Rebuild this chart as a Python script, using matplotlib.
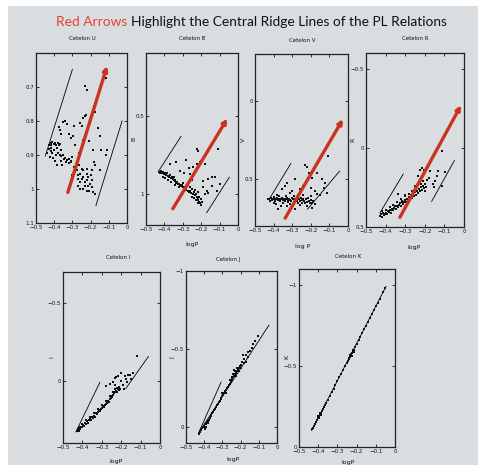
import matplotlib
matplotlib.use('Agg')
import matplotlib.pyplot as plt
from matplotlib.patches import Rectangle
from matplotlib.ticker import FuncFormatter, FixedLocator

# ---------------- data ----------------
U_pts = [(-0.43,0.87),(-0.42,0.865),(-0.415,0.872),(-0.41,0.862),(-0.40,0.868),(-0.395,0.864),(-0.39,0.870),(-0.38,0.866),
         (-0.375,0.872),(-0.37,0.868),(-0.428,0.882),(-0.42,0.889),(-0.41,0.894),(-0.40,0.885),(-0.39,0.899),(-0.38,0.895),
         (-0.37,0.899),(-0.36,0.903),(-0.35,0.899),(-0.34,0.908),(-0.33,0.915),(-0.32,0.912),(-0.31,0.918),(-0.32,0.925),
         (-0.335,0.921),(-0.305,0.922),(-0.395,0.918),(-0.385,0.928),(-0.365,0.918),(-0.345,0.913),(-0.44,0.895),(-0.425,0.905),
         (-0.415,0.878),(-0.405,0.91),(-0.385,0.88),(-0.36,0.885),(-0.355,0.93),(-0.3,0.905),
         (-0.373,0.818),(-0.363,0.838),(-0.35,0.804),(-0.34,0.80),(-0.32,0.838),(-0.295,0.843),(-0.29,0.816),(-0.26,0.806),
         (-0.25,0.816),(-0.24,0.792),(-0.225,0.782),(-0.207,0.86),(-0.175,0.775),(-0.151,0.843),(-0.16,0.82),(-0.142,0.885),
         (-0.115,0.9),(-0.11,0.885),(-0.185,0.885),(-0.24,0.855),(-0.265,0.895),(-0.285,0.87),(-0.31,0.85),(-0.33,0.81),
         (-0.37,0.826),(-0.231,0.696),(-0.222,0.708),(-0.115,0.673),(-0.233,0.786),
         (-0.285,0.95),(-0.276,0.945),(-0.267,0.96),(-0.258,0.955),(-0.25,0.97),(-0.24,0.965),(-0.231,0.98),(-0.222,0.975),
         (-0.213,0.99),(-0.204,0.985),(-0.195,0.995),(-0.24,1.0),(-0.222,1.005),(-0.207,1.005),(-0.185,1.01),(-0.176,1.015),
         (-0.258,0.98),(-0.27,0.97),(-0.24,0.945),(-0.222,0.94),(-0.195,0.945),(-0.176,0.93),(-0.18,0.92),(-0.149,0.945),
         (-0.262,0.93),(-0.222,0.955),(-0.25,0.94),(-0.213,0.965),(-0.29,0.935),(-0.2,0.96),(-0.19,0.975),(-0.23,0.99),
         (-0.27,0.99),(-0.3,0.96),(-0.26,1.0)]
B_pts = [(-0.43,0.86),(-0.425,0.87),(-0.42,0.855),(-0.415,0.865),(-0.41,0.87),(-0.405,0.86),(-0.40,0.875),(-0.395,0.865),
         (-0.39,0.88),(-0.385,0.87),(-0.38,0.885),(-0.375,0.89),(-0.37,0.88),(-0.365,0.90),(-0.36,0.895),(-0.355,0.905),
         (-0.35,0.91),(-0.345,0.915),(-0.34,0.92),(-0.335,0.93),(-0.33,0.925),(-0.325,0.935),(-0.32,0.94),(-0.315,0.945),
         (-0.31,0.95),(-0.305,0.945),(-0.30,0.955),(-0.295,0.96),(-0.29,0.97),(-0.285,0.965),(-0.28,0.975),(-0.27,0.98),
         (-0.265,0.99),(-0.26,0.985),(-0.255,0.995),(-0.25,0.97),(-0.245,1.0),(-0.24,0.99),(-0.235,1.01),(-0.23,1.0),
         (-0.225,1.02),(-0.22,1.03),(-0.215,1.04),(-0.21,1.05),(-0.205,1.06),(-0.2,1.07),(-0.22,1.06),(-0.23,1.04),
         (-0.21,1.02),(-0.2,1.035),(-0.195,1.05),(-0.24,1.03),(-0.41,0.89),(-0.395,0.9),(-0.38,0.91),(-0.365,0.925),
         (-0.35,0.89),(-0.34,0.945),(-0.32,0.96),(-0.3,0.93),(-0.28,0.95),(-0.26,0.96),(-0.25,1.02),(-0.235,0.975),
         (-0.22,0.99),(-0.368,0.81),(-0.336,0.796),(-0.282,0.787),(-0.314,0.855),(-0.296,0.865),(-0.242,0.83),
         (-0.224,0.813),(-0.206,0.80),(-0.179,0.813),(-0.224,0.713),(-0.215,0.728),(-0.107,0.717),(-0.143,0.894),
         (-0.125,0.894),(-0.161,0.909),(-0.143,0.951),(-0.098,0.94),(-0.116,0.983),(-0.17,0.983),(-0.188,0.92),
         (-0.26,0.877),(-0.269,0.834),(-0.25,0.91),(-0.161,0.994),(-0.19,0.96),(-0.18,1.0)]
V_pts = [(-0.43,0.63),(-0.425,0.625),(-0.42,0.64),(-0.415,0.62),(-0.41,0.635),(-0.405,0.63),(-0.40,0.615),(-0.395,0.625),
         (-0.39,0.64),(-0.385,0.63),(-0.38,0.62),(-0.375,0.635),(-0.37,0.625),(-0.365,0.64),(-0.36,0.63),(-0.355,0.62),
         (-0.35,0.635),(-0.345,0.625),(-0.34,0.64),(-0.335,0.63),(-0.33,0.62),(-0.325,0.635),(-0.32,0.645),(-0.315,0.625),
         (-0.31,0.635),(-0.305,0.64),(-0.30,0.62),(-0.295,0.63),(-0.29,0.645),(-0.285,0.625),(-0.28,0.635),(-0.275,0.64),
         (-0.27,0.65),(-0.265,0.63),(-0.26,0.64),(-0.255,0.62),(-0.25,0.635),(-0.245,0.65),(-0.24,0.625),(-0.235,0.64),
         (-0.23,0.655),(-0.225,0.63),(-0.22,0.645),(-0.215,0.62),(-0.21,0.64),(-0.205,0.655),(-0.2,0.635),(-0.195,0.65),
         (-0.19,0.64),(-0.18,0.66),(-0.4,0.65),(-0.385,0.66),(-0.37,0.61),(-0.35,0.655),(-0.335,0.605),(-0.31,0.66),
         (-0.29,0.61),(-0.26,0.665),(-0.24,0.6),(-0.22,0.675),(-0.2,0.61),(-0.38,0.6),(-0.36,0.675),
         (-0.338,0.545),(-0.355,0.565),(-0.33,0.523),(-0.284,0.502),(-0.23,0.407),(-0.222,0.42),(-0.212,0.46),
         (-0.167,0.46),(-0.194,0.494),(-0.14,0.50),(-0.122,0.523),(-0.131,0.555),(-0.113,0.587),(-0.108,0.35),
         (-0.257,0.566),(-0.302,0.576),(-0.24,0.545),(-0.176,0.576),(-0.167,0.595),(-0.27,0.6),(-0.2,0.56),(-0.15,0.6),
         (-0.31,0.59),(-0.374,0.693),(-0.284,0.69),(-0.194,0.682),(-0.33,0.675)]
R_pts = [(-0.43,0.43),(-0.425,0.42),(-0.42,0.435),(-0.415,0.41),(-0.41,0.425),(-0.405,0.415),(-0.40,0.41),(-0.395,0.42),
         (-0.39,0.40),(-0.385,0.405),(-0.38,0.395),(-0.375,0.41),(-0.37,0.39),(-0.365,0.385),(-0.36,0.395),(-0.355,0.38),
         (-0.35,0.37),(-0.345,0.385),(-0.34,0.365),(-0.335,0.375),(-0.33,0.36),(-0.325,0.35),(-0.32,0.365),(-0.315,0.345),
         (-0.31,0.355),(-0.305,0.34),(-0.30,0.33),(-0.295,0.345),(-0.29,0.32),(-0.285,0.335),(-0.28,0.31),(-0.275,0.325),
         (-0.27,0.30),(-0.265,0.315),(-0.26,0.29),(-0.255,0.305),(-0.25,0.28),(-0.245,0.295),(-0.24,0.27),(-0.235,0.285),
         (-0.23,0.26),(-0.225,0.275),(-0.22,0.25),(-0.215,0.265),(-0.21,0.24),(-0.205,0.255),(-0.2,0.27),(-0.195,0.245),
         (-0.42,0.40),(-0.4,0.39),(-0.38,0.375),(-0.36,0.36),(-0.34,0.34),(-0.32,0.32),(-0.30,0.305),(-0.28,0.29),
         (-0.26,0.27),(-0.24,0.25),(-0.22,0.23),(-0.21,0.21),(-0.23,0.22),(-0.25,0.24),(-0.2,0.23),
         (-0.224,0.137),(-0.215,0.13),(-0.206,0.137),(-0.173,0.148),(-0.131,0.148),(-0.097,0.15),(-0.11,0.021),
         (-0.148,0.211),(-0.155,0.25),(-0.11,0.24),(-0.241,0.232),(-0.267,0.274),(-0.233,0.179),(-0.19,0.2),
         (-0.301,0.295),(-0.335,0.29),(-0.318,0.338),(-0.18,0.19),(-0.16,0.23),(-0.14,0.18)]
I_pts = [(-0.43,0.32),(-0.425,0.31),(-0.42,0.325),(-0.415,0.30),(-0.41,0.31),(-0.405,0.295),(-0.40,0.30),(-0.395,0.285),
         (-0.39,0.29),(-0.385,0.27),(-0.38,0.28),(-0.375,0.26),(-0.37,0.27),(-0.365,0.25),(-0.36,0.245),(-0.355,0.255),
         (-0.35,0.235),(-0.345,0.24),(-0.34,0.225),(-0.335,0.23),(-0.33,0.21),(-0.325,0.215),(-0.32,0.20),(-0.315,0.19),
         (-0.31,0.195),(-0.305,0.18),(-0.30,0.175),(-0.295,0.165),(-0.29,0.17),(-0.285,0.155),(-0.28,0.15),(-0.275,0.14),
         (-0.27,0.13),(-0.265,0.135),(-0.26,0.12),(-0.255,0.11),(-0.25,0.105),(-0.245,0.095),(-0.24,0.09),(-0.235,0.08),
         (-0.23,0.075),(-0.225,0.065),(-0.22,0.07),(-0.215,0.055),(-0.21,0.06),(-0.205,0.05),
         (-0.42,0.30),(-0.40,0.275),(-0.38,0.255),(-0.36,0.23),(-0.34,0.205),(-0.32,0.18),(-0.30,0.155),(-0.28,0.13),
         (-0.26,0.10),(-0.24,0.075),(-0.23,0.055),(-0.22,0.045),(-0.23,0.03),(-0.21,0.04),
         (-0.233,-0.021),(-0.225,-0.025),(-0.215,-0.03),(-0.181,-0.032),(-0.165,-0.035),(-0.155,-0.04),(-0.138,-0.053),
         (-0.121,-0.16),(-0.276,0.032),(-0.26,0.02),(-0.24,0.01),(-0.2,0.0),(-0.19,0.03),(-0.17,0.01),(-0.15,-0.01),
         (-0.2,-0.05),(-0.185,0.05),(-0.175,-0.01)]
J_pts = [(-0.43,0.04),(-0.425,0.03),(-0.42,0.02),(-0.415,0.015),(-0.41,0.005),(-0.405,0.0),(-0.40,-0.01),(-0.395,-0.02),
         (-0.39,-0.02),(-0.385,-0.035),(-0.38,-0.04),(-0.375,-0.05),(-0.37,-0.06),(-0.365,-0.07),(-0.36,-0.08),(-0.355,-0.09),
         (-0.35,-0.1),(-0.345,-0.11),(-0.34,-0.12),(-0.335,-0.13),(-0.33,-0.14),(-0.325,-0.15),(-0.32,-0.16),(-0.315,-0.17),
         (-0.31,-0.18),(-0.305,-0.185),(-0.30,-0.2),(-0.295,-0.21),(-0.29,-0.22),(-0.285,-0.23),(-0.28,-0.24),(-0.275,-0.25),
         (-0.27,-0.26),(-0.265,-0.27),(-0.26,-0.28),(-0.255,-0.29),(-0.25,-0.30),(-0.245,-0.31),(-0.24,-0.32),(-0.235,-0.33),
         (-0.23,-0.34),(-0.225,-0.35),(-0.22,-0.36),(-0.215,-0.37),(-0.21,-0.38),(-0.205,-0.39),(-0.20,-0.40),(-0.19,-0.42),
         (-0.18,-0.44),(-0.17,-0.46),(-0.16,-0.48),(-0.15,-0.49),(-0.14,-0.51),(-0.13,-0.53),(-0.12,-0.55),(-0.104,-0.586),
         (-0.40,0.0),(-0.39,-0.005),(-0.38,-0.03),(-0.395,0.01),(-0.24,-0.34),(-0.23,-0.36),(-0.22,-0.38),(-0.225,-0.33),
         (-0.21,-0.36),(-0.235,-0.37),(-0.2,-0.38),(-0.18,-0.41),(-0.16,-0.45),(-0.3,-0.22),(-0.28,-0.22),(-0.26,-0.3),
         (-0.25,-0.32),(-0.185,-0.46),(-0.17,-0.42)]
K_pts = [(-0.43,-0.11),(-0.425,-0.12),(-0.42,-0.13),(-0.415,-0.14),(-0.41,-0.155),(-0.405,-0.165),(-0.40,-0.18),(-0.395,-0.19),
         (-0.39,-0.2),(-0.385,-0.21),(-0.38,-0.225),(-0.375,-0.235),(-0.37,-0.245),(-0.365,-0.26),(-0.36,-0.27),(-0.35,-0.29),
         (-0.34,-0.315),(-0.33,-0.34),(-0.32,-0.36),(-0.31,-0.385),(-0.30,-0.405),(-0.29,-0.43),(-0.28,-0.45),(-0.27,-0.475),
         (-0.26,-0.5),(-0.25,-0.52),(-0.245,-0.53),(-0.24,-0.545),(-0.235,-0.555),(-0.23,-0.565),(-0.225,-0.58),(-0.22,-0.59),
         (-0.215,-0.60),(-0.21,-0.615),(-0.20,-0.635),(-0.19,-0.66),(-0.18,-0.68),(-0.17,-0.705),(-0.16,-0.73),(-0.15,-0.75),
         (-0.14,-0.775),(-0.13,-0.80),(-0.12,-0.82),(-0.11,-0.845),(-0.10,-0.87),(-0.09,-0.89),(-0.08,-0.915),(-0.06,-0.96),
         (-0.05,-0.985),(-0.40,-0.19),(-0.395,-0.18),(-0.39,-0.21),(-0.385,-0.2),(-0.23,-0.575),(-0.225,-0.565),
         (-0.22,-0.6),(-0.235,-0.57),(-0.24,-0.55),(-0.215,-0.59)]

bands = ['U', 'B', 'V', 'R', 'I', 'J', 'K']
band_points = [U_pts, B_pts, V_pts, R_pts, I_pts, J_pts, K_pts]
band_ylim = [(1.1, 0.6), (1.2, 0.1), (0.8, -0.3), (0.5, -0.6), (0.4, -0.7), (0.1, -1.0), (0.0, -1.1)]
band_yticks = [[0.7, 0.8, 0.9, 1.0, 1.1], [0.5, 1.0], [0.0, 0.5], [-0.5, 0.0, 0.5], [-0.5, 0.0],
               [-1.0, -0.5, 0.0], [-1.0, -0.5, 0.0]]
xticks = [-0.5, -0.4, -0.3, -0.2, -0.1, 0.0]
band_xlabel = ['', 'logP', 'log P', 'logP', 'logP', 'logP', 'logP']
band_ylabel = ['', 'B', 'V', 'R', 'I', 'J', 'K']

# ridge (edge) lines, each [(x1,y1),(x2,y2)]
band_ridges = [
    [[(-0.449, 0.903), (-0.300, 0.648)], [(-0.171, 1.049), (-0.027, 0.800)]],
    [[(-0.432, 0.856), (-0.309, 0.632)], [(-0.170, 1.121), (-0.047, 0.894)]],
    [[(-0.424, 0.629), (-0.307, 0.400)], [(-0.218, 0.693), (-0.045, 0.449)]],
    [[(-0.429, 0.411), (-0.310, 0.165)], [(-0.165, 0.338), (-0.049, 0.080)]],
    [[(-0.434, 0.329), (-0.310, 0.010)], [(-0.176, 0.049), (-0.060, -0.156)]],
    [[(-0.431, 0.036), (-0.307, -0.290)], [(-0.431, 0.036), (-0.044, -0.654)]],
    [[(-0.434, -0.102), (-0.047, -0.992)]],
]
# red arrows [(start),(end)] (top row only)
band_arrows = [[(-0.325, 1.010), (-0.109, 0.638)],
               [(-0.354, 1.096), (-0.058, 0.519)],
               [(-0.338, 0.750), (-0.027, 0.116)],
               [(-0.327, 0.439), (-0.015, -0.270)],
               None, None, None]

# ---------------- layout ----------------
W, H = 478, 465
# axes boxes in pixels: left, top, right, bottom
boxes = [(36, 53, 127, 223), (146, 53, 238, 225), (255, 54, 348, 226), (366, 53, 464, 227),
         (63, 272, 160, 443), (186, 271, 277, 443), (299, 269, 395, 447)]
title_pos = [(82, 39), (192, 38), (302, 40), (415, 38), (118, 257), (228, 259), (348, 256)]
xlabel_pos = [None, (192, 244), (303, 246), (414, 247), (116, 461), (233, 459), (348, 462)]
ylabel_pos = [None, (134, 139), (243, 140), (353, 140), (52, 357), (173, 358), (287, 357)]

BG = '#d9dde0'
fig = plt.figure(figsize=(W / 100, H / 100), dpi=100, facecolor='white')
fig.patches.append(Rectangle((8 / W, 0), 1, 1 - 6 / H, transform=fig.transFigure,
                             facecolor=BG, edgecolor='none', zorder=-10))

def fx(px):
    return px / W

def fy(py):
    return 1 - py / H

def fmt(v, pos):
    v = round(v, 3)
    if v == 0:
        return '0'
    return ('%g' % v).replace('-', '\u2212')

small = dict(fontsize=4, family='DejaVu Sans', color='#111111')

for i, band in enumerate(bands):
    l, t, r, b = boxes[i]
    ax = fig.add_axes([fx(l), fy(b), (r - l) / W, (b - t) / H])
    ax.set_facecolor('none')
    xs = [p[0] for p in band_points[i]]
    ys = [p[1] for p in band_points[i]]
    ax.scatter(xs, ys, s=0.8, c='#111111', marker='s', linewidths=0, zorder=3)
    for seg in band_ridges[i]:
        ax.plot([seg[0][0], seg[1][0]], [seg[0][1], seg[1][1]], color='black', lw=0.6, zorder=2)
    if band_arrows[i] is not None:
        (x0, y0), (x1, y1) = band_arrows[i]
        ax.annotate('', xy=(x1, y1), xytext=(x0, y0),
                    arrowprops=dict(arrowstyle='-|>,head_length=0.5,head_width=0.25',
                                    color='#c8341f', lw=2.4, shrinkA=0, shrinkB=0,
                                    mutation_scale=5), zorder=4)
    ax.set_xlim(-0.5, 0.0)
    ax.set_ylim(*band_ylim[i])
    ax.xaxis.set_major_locator(FixedLocator(xticks))
    ax.yaxis.set_major_locator(FixedLocator(band_yticks[i]))
    ax.xaxis.set_major_formatter(FuncFormatter(fmt))
    ax.yaxis.set_major_formatter(FuncFormatter(fmt))
    ax.tick_params(direction='in', length=2, width=0.6, top=True, right=True,
                   labelsize=4, pad=1.5, colors='#111111')
    for sp in ax.spines.values():
        sp.set_linewidth(0.9)
        sp.set_color('#222222')
    tx, ty = title_pos[i]
    fig.text(fx(tx), fy(ty), 'Cetelon ' + band, ha='center', va='center', **small)
    if xlabel_pos[i] is not None:
        x_, y_ = xlabel_pos[i]
        fig.text(fx(x_), fy(y_), band_xlabel[i], ha='center', va='center', fontsize=4.5,
                 family='DejaVu Sans', color='#111111')
    if ylabel_pos[i] is not None:
        x_, y_ = ylabel_pos[i]
        fig.text(fx(x_), fy(y_), band_ylabel[i], ha='center', va='center', rotation=90,
                 fontsize=4.5, family='DejaVu Sans', color='#111111')

# ---------------- headline ----------------
red_part = 'Red Arrows'
black_part = 'Highlight the Central Ridge Lines of the PL Relations'
target_w = 391
fam = 'Lato'
rend = fig.canvas.get_renderer()
fs0 = 14
probe = fig.text(0, 0, red_part + ' ' + black_part, fontsize=fs0, family=fam)
w0 = probe.get_window_extent(rend).width
probe.remove()
fs = fs0 * target_w / w0
t1 = fig.text(fx(56), fy(26), red_part, fontsize=fs, family=fam, color='#e2432f',
              ha='left', va='baseline')
p1 = fig.text(0, 0, red_part + ' x', fontsize=fs, family=fam)
p2 = fig.text(0, 0, 'x', fontsize=fs, family=fam)
off = p1.get_window_extent(rend).width - p2.get_window_extent(rend).width
p1.remove(); p2.remove()
fig.text(fx(56) + off / W, fy(26), black_part, fontsize=fs, family=fam, color='#111111',
         ha='left', va='baseline')

fig.savefig('out.png', dpi=100, facecolor=fig.get_facecolor())
